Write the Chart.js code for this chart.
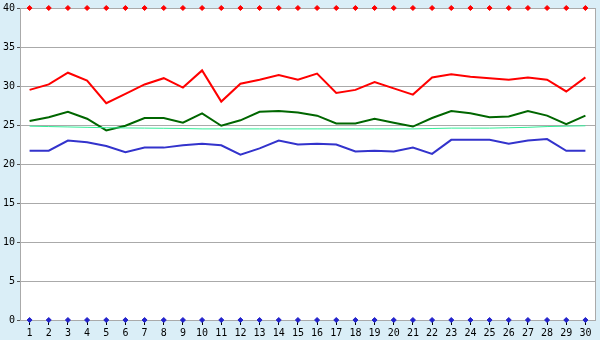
<!DOCTYPE html>
<html>
<head>
<meta charset="utf-8">
<script src="https://cdn.jsdelivr.net/npm/chart.js@4/dist/chart.umd.min.js"></script>
<style>
html,body{margin:0;padding:0;background:#daeef7;}
#wrap{width:600px;height:340px;}
</style>
</head>
<body>
<div id="wrap"><canvas id="c" width="600" height="340"></canvas></div>
<script>
const labels = ['1','2','3','4','5','6','7','8','9','10','11','12','13','14','15','16','17','18','19','20','21','22','23','24','25','26','27','28','29','30'];
const redValues = [29.5,30.2,31.7,30.7,27.8,29.0,30.2,31.0,29.8,32.0,28.0,30.3,30.8,31.4,30.8,31.6,29.1,29.5,30.5,29.7,28.9,31.1,31.5,31.2,31.0,30.8,31.1,30.8,29.3,31.1];
const greenValues = [25.5,26.0,26.7,25.8,24.3,24.9,25.9,25.9,25.3,26.5,24.9,25.6,26.7,26.8,26.6,26.2,25.2,25.2,25.8,25.3,24.8,25.9,26.8,26.5,26.0,26.1,26.8,26.2,25.1,26.2];
const blueValues = [21.7,21.7,23.0,22.8,22.3,21.5,22.1,22.1,22.4,22.6,22.4,21.2,22.0,23.0,22.5,22.6,22.5,21.6,21.7,21.6,22.1,21.3,23.1,23.1,23.1,22.6,23.0,23.2,21.7,21.7];
const mintValues = [24.85,24.8,24.75,24.7,24.65,24.62,24.6,24.58,24.55,24.5,24.5,24.5,24.5,24.5,24.5,24.5,24.5,24.5,24.5,24.5,24.5,24.55,24.6,24.6,24.6,24.65,24.7,24.8,24.85,24.9];
const topMarkers = [40,40,40,40,40,40,40,40,40,40,40,40,40,40,40,40,40,40,40,40,40,40,40,40,40,40,40,40,40,40];
const bottomMarkers = [0,0,0,0,0,0,0,0,0,0,0,0,0,0,0,0,0,0,0,0,0,0,0,0,0,0,0,0,0,0];
const yTicks = [0,5,10,15,20,25,30,35,40];

const FONT = {family:'"DejaVu Sans Mono", monospace', size:10};

const plotBg = {
  id:'plotBg',
  beforeDraw(chart){
    const {ctx, chartArea:a} = chart;
    ctx.save();
    ctx.fillStyle = '#ffffff';
    ctx.fillRect(a.left, a.top, a.right - a.left, a.bottom - a.top);
    ctx.restore();
  },
  afterDatasetsDraw(chart){
    const {ctx, chartArea:a} = chart;
    ctx.save();
    ctx.strokeStyle = '#aaaaaa';
    ctx.lineWidth = 1;
    ctx.beginPath();
    ctx.moveTo(a.right + 0.5, a.top);
    ctx.lineTo(a.right + 0.5, a.bottom);
    ctx.stroke();
    ctx.restore();
  }
};

function lineDs(data, color, width){
  return {data, borderColor:color, backgroundColor:color, borderWidth:width, pointRadius:0, tension:0, fill:false};
}
function markDs(data, color){
  return {data, showLine:false, pointStyle:'rectRot', pointRadius:2.5, borderWidth:1, borderColor:color, backgroundColor:color, clip:false};
}

new Chart(document.getElementById('c'), {
  type:'line',
  data:{
    labels,
    datasets:[
      lineDs(mintValues, '#33ee99', 1),
      lineDs(blueValues, '#3333cc', 2),
      lineDs(greenValues, '#006600', 2),
      lineDs(redValues, '#ff0000', 2),
      markDs(topMarkers, '#ff0000'),
      markDs(bottomMarkers, '#2222cc')
    ]
  },
  options:{
    responsive:false,
    animation:false,
    events:[],
    layout:{autoPadding:false, padding:{top:5,right:5,left:0,bottom:0}},
    plugins:{legend:{display:false}, tooltip:{enabled:false}},
    scales:{
      x:{
        offset:true,
        grid:{drawOnChartArea:false, drawTicks:true, tickLength:5, tickColor:'#000000'},
        border:{color:'#aaaaaa'},
        ticks:{color:'#000000', font:FONT, padding:2, maxRotation:0, autoSkip:false},
        afterFit(s){ s.height = 20; }
      },
      y:{
        min:0, max:40,
        afterBuildTicks(s){ s.ticks = yTicks.map(v=>({value:v})); },
        grid:{color:'#aaaaaa', tickLength:3, tickColor:'#555555'},
        border:{color:'#aaaaaa'},
        ticks:{color:'#000000', font:FONT, padding:2},
        afterFit(s){ s.width = 20; }
      }
    }
  },
  plugins:[plotBg]
});
</script>
</body>
</html>
